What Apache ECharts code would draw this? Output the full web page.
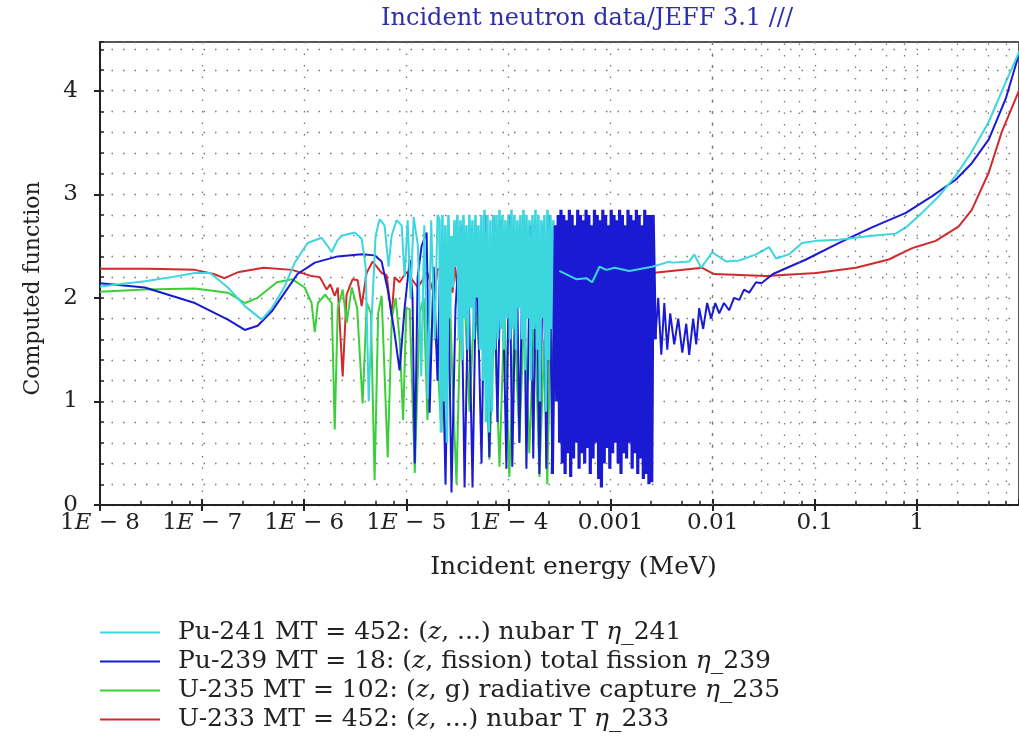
<!DOCTYPE html>
<html>
<head>
<meta charset="utf-8">
<script src="https://cdn.jsdelivr.net/npm/echarts@6/dist/echarts.min.js"></script>
<style>
  html, body { margin: 0; padding: 0; background: #fff; }
  #main { width: 1019px; height: 744px; }
</style>
</head>
<body>
<div id="main"></div>
<script>
// tick labels
var xTickLabels = ['1E − 8', '1E − 7', '1E − 6', '1E − 5', '1E − 4', '0.001', '0.01', '0.1', '1', '10'];
var yTickLabels = ['0', '1', '2', '3', '4'];
// grid positions for the 2.5 / 5 / 7.5 lines of every decade
var minorMantissa = [2.5, 5, 7.5];
var decades = [1e-8, 1e-7, 1e-6, 1e-5, 1e-4, 1e-3, 1e-2, 1e-1, 1];

var names = {
  pu241: 'Pu-241 MT = 452: (z, ...) nubar T η_241',
  pu239: 'Pu-239 MT = 18: (z, fission) total fission η_239',
  u235: 'U-235 MT = 102: (z, g) radiative capture η_235',
  u233: 'U-233 MT = 452: (z, ...) nubar T η_233'
};

// [energy MeV, value]; '-' breaks the line where the dense part is drawn separately
var pu241 = [
  [1e-8, 2.11], [2.75e-8, 2.16], [5e-8, 2.2], [8.5e-8, 2.24], [1.2e-7, 2.24], [1.79e-7, 2.10],
  [2.62e-7, 1.92], [3.84e-7, 1.79], [4.81e-7, 1.90], [6.44e-7, 2.11], [8.07e-7, 2.34], [1.08e-6, 2.53],
  [1.48e-6, 2.58], [1.7e-6, 2.5], [1.86e-6, 2.44], [2.1e-6, 2.55], [2.33e-6, 2.6], [3.12e-6, 2.63],
  [3.65e-6, 2.57], [4.0e-6, 2.3], [4.28e-6, 1.0], [4.57e-6, 1.8], [5.0e-6, 2.6], [5.47e-6, 2.76],
  [6.12e-6, 2.7], [6.7e-6, 2.3], [7.18e-6, 2.6], [8.03e-6, 2.75], [9.0e-6, 2.7], [9.62e-6, 2.2],
  [1.03e-5, 2.75], [1.1e-5, 2.0], [1.18e-5, 2.78], [1.3e-5, 2.5], [1.4e-5, 1.24], [1.5e-5, 2.7],
  [1.62e-5, 1.02], [1.75e-5, 2.75], [1.9e-5, 1.6], [2.02e-5, 2.8], [2.05e-5, '-'],
  [3.15e-4, 2.26], [4.6e-4, 2.18], [5.8e-4, 2.19], [6.6e-4, 2.15], [7.8e-4, 2.3], [9.1e-4, 2.27],
  [1.1e-3, 2.29], [1.52e-3, 2.26], [2.56e-3, 2.3], [3.76e-3, 2.35], [4.0e-3, 2.34], [5.9e-3, 2.35],
  [6.6e-3, 2.42], [7.7e-3, 2.29], [9.9e-3, 2.44], [1.36e-2, 2.35], [1.82e-2, 2.36], [2.66e-2, 2.42],
  [3.57e-2, 2.49], [4.18e-2, 2.38], [5.6e-2, 2.42], [7.5e-2, 2.53], [0.103, 2.55], [0.173, 2.56],
  [0.363, 2.6], [0.62, 2.62], [0.78, 2.68], [1.12, 2.82], [1.64, 2.98], [2.4, 3.18],
  [3.45, 3.41], [5.06, 3.7], [7.4, 4.08], [9.7, 4.34], [10, 4.38]
];
// dense resonance region of Pu-241
var pu241Dense = [
  [2.02e-5, 2.8],
  [2.110e-5, 2.75], [2.183e-5, 0.7], [2.258e-5, 2.8], [2.335e-5, 1.0], [2.416e-5, 2.7], [2.499e-5, 0.6],
  [2.585e-5, 2.8], [2.674e-5, 1.8], [2.766e-5, 2.6], [2.861e-5, 2.1], [2.959e-5, 2.75], [3.061e-5, 2.3],
  [3.166e-5, 2.8], [3.275e-5, 1.6], [3.388e-5, 2.75], [3.505e-5, 1.4], [3.625e-5, 2.8], [3.750e-5, 1.8],
  [3.879e-5, 2.7], [4.012e-5, 1.5], [4.150e-5, 2.8], [4.293e-5, 1.9], [4.441e-5, 2.75], [4.594e-5, 1.6],
  [4.752e-5, 2.8], [4.915e-5, 2.0], [5.084e-5, 2.7], [5.259e-5, 1.5], [5.440e-5, 2.8], [5.627e-5, 1.2],
  [5.821e-5, 2.85], [6.021e-5, 0.8], [6.228e-5, 2.8], [6.443e-5, 0.7], [6.664e-5, 2.75], [6.894e-5, 0.9],
  [7.131e-5, 2.8], [7.376e-5, 1.5], [7.630e-5, 2.8], [7.893e-5, 1.6], [8.164e-5, 2.85], [8.445e-5, 1.7],
  [8.736e-5, 2.8], [9.036e-5, 1.5], [9.347e-5, 2.75], [9.669e-5, 1.8], [1.0001e-4, 2.8], [1.0345e-4, 1.6],
  [1.0701e-4, 2.85], [1.1069e-4, 1.7], [1.1450e-4, 2.8], [1.1844e-4, 1.5], [1.2251e-4, 2.75], [1.2673e-4, 1.9],
  [1.3109e-4, 2.8], [1.3560e-4, 1.6], [1.4026e-4, 2.85], [1.4509e-4, 1.3], [1.5008e-4, 2.8], [1.5524e-4, 1.8],
  [1.6058e-4, 2.75], [1.6611e-4, 1.2], [1.7182e-4, 2.8], [1.7773e-4, 1.7], [1.8385e-4, 2.85], [1.9017e-4, 1.5],
  [1.9671e-4, 2.8], [2.0348e-4, 1.0], [2.1048e-4, 2.75], [2.1772e-4, 1.8], [2.2521e-4, 2.8], [2.3296e-4, 0.9],
  [2.4097e-4, 2.85], [2.4926e-4, 1.4], [2.5784e-4, 2.8], [2.6671e-4, 1.7], [2.7588e-4, 2.75], [2.8537e-4, 1.5],
  [2.9519e-4, 2.6], [3.0534e-4, 2.3], [3.15e-4, 2.26]
];

var pu239 = [
  [1e-8, 2.14], [2.75e-8, 2.10], [8.5e-8, 1.95], [1.79e-7, 1.79], [2.62e-7, 1.69], [3.5e-7, 1.73],
  [4.81e-7, 1.87], [6.44e-7, 2.05], [8.6e-7, 2.23], [1.27e-6, 2.34], [2.13e-6, 2.40], [3.65e-6, 2.42],
  [4.89e-6, 2.41], [5.73e-6, 2.35], [6.57e-6, 2.08], [7.67e-6, 1.66], [8.59e-6, 1.3], [9.62e-6, 1.9],
  [1.08e-5, 2.37], [1.15e-5, 2.0], [1.21e-5, 0.4], [1.29e-5, 2.2], [1.41e-5, 2.5], [1.58e-5, 2.63],
  [1.69e-5, 0.89], [1.85e-5, 2.3], [2.02e-5, 1.2], [2.16e-5, 2.5], [2.42e-5, 0.2], [2.59e-5, 2.0],
  [2.77e-5, 0.12], [3.03e-5, 1.9], [3.4e-5, 2.7], [3.72e-5, 0.17], [4.06e-5, 2.2], [4.45e-5, 0.17],
  [4.87e-5, 2.5], [5.45e-5, 0.4], [5.96e-5, 2.8], [6.5e-5, 0.46], [7.13e-5, 2.8], [7.8e-5, 0.8],
  [8.55e-5, 2.75], [9.55e-5, 0.35], [1.02e-4, 2.8], [1.09e-4, 0.37], [1.2e-4, 2.6], [1.28e-4, 0.6],
  [1.4e-4, 2.8], [1.5e-4, 0.35], [1.64e-4, 2.7], [1.75e-4, 0.45], [1.88e-4, 2.6], [2.01e-4, 0.3],
  [2.2e-4, 2.7], [2.35e-4, 0.35], [2.52e-4, 2.8], [2.69e-4, 0.3], [2.7e-4, '-'],
  [2.74e-3, 1.6], [2.93e-3, 2.0], [3.14e-3, 1.45], [3.36e-3, 1.95], [3.59e-3, 1.5], [3.84e-3, 1.85],
  [4.2e-3, 1.55], [4.6e-3, 1.8], [5.04e-3, 1.47], [5.51e-3, 1.75], [5.89e-3, 1.45], [6.44e-3, 1.8],
  [6.9e-3, 1.55], [7.38e-3, 1.9], [8.07e-3, 1.7], [8.83e-3, 1.95], [9.66e-3, 1.8], [1.06e-2, 1.95],
  [1.16e-2, 1.85], [1.29e-2, 1.95], [1.45e-2, 1.88], [1.62e-2, 2.0], [1.82e-2, 1.98], [2.03e-2, 2.08],
  [2.28e-2, 2.05], [2.66e-2, 2.15], [3.0e-2, 2.14], [3.9e-2, 2.23], [8.2e-2, 2.37], [0.173, 2.53],
  [0.363, 2.68], [0.78, 2.82], [1.4, 2.98], [2.4, 3.14], [3.45, 3.3], [5.06, 3.53],
  [7.4, 3.92], [9.7, 4.31], [10, 4.35]
];
// dense resonance band of Pu-239
var pu239Band = [
  [2.69e-4, 0.3],
  [2.88e-4, 2.7], [2.97e-4, 1.0], [3.07e-4, 2.8], [3.17e-4, 0.6], [3.27e-4, 2.85], [3.37e-4, 0.4],
  [3.48e-4, 2.8], [3.59e-4, 0.3], [3.71e-4, 2.75], [3.82e-4, 0.5], [3.95e-4, 2.85], [4.07e-4, 0.27],
  [4.2e-4, 2.8], [4.34e-4, 0.45], [4.48e-4, 2.7], [4.62e-4, 0.6], [4.77e-4, 2.85], [4.92e-4, 0.35],
  [5.08e-4, 2.8], [5.24e-4, 0.5], [5.41e-4, 2.75], [5.58e-4, 0.4], [5.76e-4, 2.85], [5.94e-4, 0.55],
  [6.13e-4, 2.8], [6.33e-4, 0.3], [6.53e-4, 2.7], [6.74e-4, 0.45], [6.96e-4, 2.85], [7.18e-4, 0.6],
  [7.41e-4, 2.8], [7.65e-4, 0.25], [7.89e-4, 2.75], [8.14e-4, 0.17], [8.4e-4, 2.85], [8.67e-4, 0.4],
  [8.95e-4, 2.8], [9.24e-4, 0.55], [9.53e-4, 2.7], [9.84e-4, 0.35], [1.015e-3, 2.85], [1.048e-3, 0.5],
  [1.081e-3, 2.8], [1.116e-3, 0.6], [1.152e-3, 2.75], [1.188e-3, 0.4], [1.226e-3, 2.85], [1.266e-3, 0.3],
  [1.306e-3, 2.8], [1.348e-3, 0.5], [1.391e-3, 2.7], [1.436e-3, 0.45], [1.482e-3, 2.85], [1.529e-3, 0.6],
  [1.578e-3, 2.8], [1.628e-3, 0.35], [1.681e-3, 2.75], [1.734e-3, 0.5], [1.79e-3, 2.85], [1.847e-3, 0.3],
  [1.906e-3, 2.8], [1.967e-3, 0.45], [2.03e-3, 2.7], [2.095e-3, 0.25], [2.162e-3, 2.85], [2.231e-3, 0.3],
  [2.303e-3, 2.8], [2.376e-3, 0.2], [2.452e-3, 2.8], [2.531e-3, 0.22], [2.612e-3, 2.8], [2.74e-3, 1.6]
];

var u235 = [
  [1e-8, 2.06], [2.75e-8, 2.08], [8.5e-8, 2.09], [1.79e-7, 2.05], [2.62e-7, 1.95], [3.5e-7, 2.0],
  [5.4e-7, 2.15], [7.6e-7, 2.18], [1.01e-6, 2.1], [1.18e-6, 1.95], [1.27e-6, 1.67], [1.36e-6, 1.95],
  [1.6e-6, 2.03], [1.86e-6, 1.95], [1.99e-6, 0.73], [2.13e-6, 1.9], [2.38e-6, 2.08], [2.61e-6, 1.76],
  [2.92e-6, 2.1], [3.3e-6, 1.9], [3.73e-6, 0.98], [4.1e-6, 1.95], [4.5e-6, 1.85], [4.89e-6, 0.24],
  [5.3e-6, 1.85], [5.73e-6, 2.02], [6.57e-6, 0.46], [7.2e-6, 1.8], [7.85e-6, 2.0], [8.6e-6, 1.6],
  [9.3e-6, 0.82], [1.0e-5, 1.9], [1.08e-5, 1.89], [1.21e-5, 0.31], [1.35e-5, 1.85], [1.48e-5, 2.0],
  [1.61e-5, 0.82], [1.77e-5, 1.7], [1.89e-5, 1.89], [2.21e-5, 0.7], [2.42e-5, 1.9], [2.65e-5, 2.1],
  [2.83e-5, 1.2], [3.1e-5, 0.2], [3.4e-5, 1.9], [3.72e-5, 2.0], [4.16e-5, 0.9], [4.65e-5, 2.0],
  [5.2e-5, 1.5], [5.82e-5, 1.9], [6.5e-5, 0.44], [7.3e-5, 1.8], [8.17e-5, 0.37], [9.14e-5, 1.9],
  [1.02e-4, 0.27], [1.15e-4, 1.8], [1.28e-4, 0.6], [1.43e-4, 1.9], [1.6e-4, 0.5], [1.8e-4, 1.9],
  [2.01e-4, 0.27], [2.25e-4, 1.6], [2.4e-4, 0.2], [2.6e-4, 1.8], [2.8e-4, 1.0]
];

var u233 = [
  [1e-8, 2.28], [3e-8, 2.28], [8.5e-8, 2.27], [1.3e-7, 2.23], [1.65e-7, 2.19], [2.3e-7, 2.25],
  [4e-7, 2.29], [7.6e-7, 2.27], [1.18e-6, 2.21], [1.42e-6, 2.2], [1.66e-6, 2.08], [1.8e-6, 2.13],
  [1.99e-6, 2.02], [2.13e-6, 2.1], [2.38e-6, 1.24], [2.6e-6, 2.03], [2.79e-6, 2.11], [2.98e-6, 2.18],
  [3.34e-6, 2.17], [3.65e-6, 1.92], [4.08e-6, 2.24], [4.68e-6, 2.35], [5.73e-6, 2.24], [6.41e-6, 2.22],
  [7.18e-6, 1.82], [7.67e-6, 2.2], [8.59e-6, 2.15], [1e-5, 2.25], [1.3e-5, 2.1], [1.6e-5, 2.25],
  [1.89e-5, 2.02], [2.02e-5, 2.28], [2.5e-5, 2.25], [2.83e-5, 2.05], [3.0e-5, 2.3], [3.2e-5, 2.05],
  [3.4e-5, 2.3], [3.6e-5, 2.25], [3.7e-5, '-'],
  [2.4e-3, 2.25], [2.56e-3, 2.24], [7.9e-3, 2.29], [1.03e-2, 2.23], [3.33e-2, 2.21], [0.103, 2.24],
  [0.253, 2.29], [0.53, 2.37], [0.9, 2.48], [1.05, 2.50], [1.53, 2.55], [2.57, 2.69],
  [3.45, 2.85], [5.06, 3.21], [6.77, 3.6], [9.7, 3.97], [10, 4.0]
];

var colors = { pu241: '#3cd6df', pu239: '#1a1ad2', u235: '#3ccf3c', u233: '#d22a2a' };

var serif = 'DejaVu Serif';
var dotted = { color: '#777', width: 1.3, type: [1.5, 10] };

var minorX = [];
decades.forEach(function (d) {
  minorMantissa.forEach(function (m) { minorX.push(m * d); });
});

function lineSeries(name, data, color, width) {
  return {
    name: name,
    type: 'line',
    data: data,
    symbol: 'none',
    connectNulls: false,
    lineStyle: { color: color, width: width },
    itemStyle: { color: color }
  };
}

var myChart = echarts.init(document.getElementById('main'));

var redSeries = lineSeries(names.u233, u233, colors.u233, 2);
redSeries.markLine = {
  silent: true,
  symbol: 'none',
  label: { show: false },
  lineStyle: dotted,
  data: minorX.map(function (v) { return { xAxis: v }; })
};
var greenSeries = lineSeries(names.u235, u235, colors.u235, 2);
greenSeries.markLine = {
  silent: true,
  symbol: 'none',
  label: { show: false },
  lineStyle: { color: '#222', width: 1.5, type: 'solid' },
  data: minorX.map(function (v) { return [{ coord: [v, 0] }, { coord: [v, 0.04] }]; })
};

var option = {
  animation: false,
  title: {
    text: 'Incident neutron data/JEFF 3.1 ///',
    left: 582,
    top: 2,
    textAlign: 'center',
    textStyle: { fontFamily: serif, fontWeight: 'normal', fontSize: 24, color: '#2e2eaa' }
  },
  legend: {
    orient: 'vertical',
    left: 95,
    top: 615,
    icon: 'rect',
    itemWidth: 60,
    itemHeight: 2,
    itemGap: 4,
    data: [names.pu241, names.pu239, names.u235, names.u233],
    formatter: function (name) {
      return name.replace('(z,', '({i|z},').replace('η', '{i|η}');
    },
    textStyle: {
      fontFamily: serif, fontSize: 25, color: '#222', padding: [0, 0, 0, 13],
      rich: { i: { fontFamily: serif, fontSize: 25, fontStyle: 'italic', color: '#222' } }
    }
  },
  grid: { left: 100, right: -3, top: 42, bottom: 239, show: true, borderColor: '#555', borderWidth: 2 },
  xAxis: [{
    type: 'log',
    logBase: 10,
    min: 1e-8,
    max: 10,
    interval: 1,
    name: 'Incident energy (MeV)',
    nameLocation: 'middle',
    nameGap: 50,
    nameTextStyle: { fontFamily: serif, fontSize: 25, color: '#222', padding: [0, 0, 0, 28] },
    axisLine: { lineStyle: { color: '#222', width: 2 } },
    axisTick: { inside: false, length: 6, lineStyle: { color: '#222', width: 2 } },
    axisLabel: {
      margin: 7,
      showMaxLabel: false,
      fontFamily: serif, fontSize: 23, color: '#222',
      formatter: function (v) {
        var i = Math.round(Math.log10(v)) + 8;
        return xTickLabels[i].replace('E', '{e|E}');
      },
      rich: { e: { fontFamily: serif, fontSize: 23, fontStyle: 'italic', color: '#222' } }
    },
    splitLine: { show: true, lineStyle: dotted }
  }, {
    type: 'log',
    logBase: 10,
    min: 1e-8,
    max: 10,
    interval: 1,
    position: 'bottom',
    axisLine: { show: false },
    axisTick: { inside: true, length: 6, lineStyle: { color: '#222', width: 2 } },
    axisLabel: { show: false },
    splitLine: { show: false }
  }],
  yAxis: [{
    type: 'value',
    min: 0,
    max: 4.47,
    interval: 0.2,
    axisLine: { show: true, lineStyle: { color: '#222', width: 2 } },
    axisTick: { inside: true, length: 4, lineStyle: { color: '#222', width: 1.5 } },
    axisLabel: { show: false },
    splitLine: { show: true, lineStyle: dotted }
  }, {
    type: 'value',
    min: 0,
    max: 4.47,
    interval: 1,
    position: 'left',
    name: 'Computed function',
    nameLocation: 'middle',
    nameGap: 56,
    nameTextStyle: { fontFamily: serif, fontSize: 22, color: '#222', padding: [0, 30, 0, 0] },
    axisLine: { show: false },
    axisTick: { inside: false, length: 6, lineStyle: { color: '#222', width: 2 } },
    axisLabel: {
      margin: 22, showMaxLabel: false, fontFamily: serif, fontSize: 23, color: '#222',
      formatter: function (v) { return yTickLabels[Math.round(v)] || ''; }
    },
    splitLine: { show: false }
  }],
  // drawing order: later series lie on top
  series: [
    redSeries,
    greenSeries,
    lineSeries(names.pu239, pu239, colors.pu239, 2),
    lineSeries(names.pu241, pu241Dense, colors.pu241, 2.6),
    lineSeries(names.pu239, pu239Band, colors.pu239, 3.2),
    lineSeries(names.pu241, pu241, colors.pu241, 2)
  ]
};

myChart.setOption(option);
</script>
</body>
</html>
